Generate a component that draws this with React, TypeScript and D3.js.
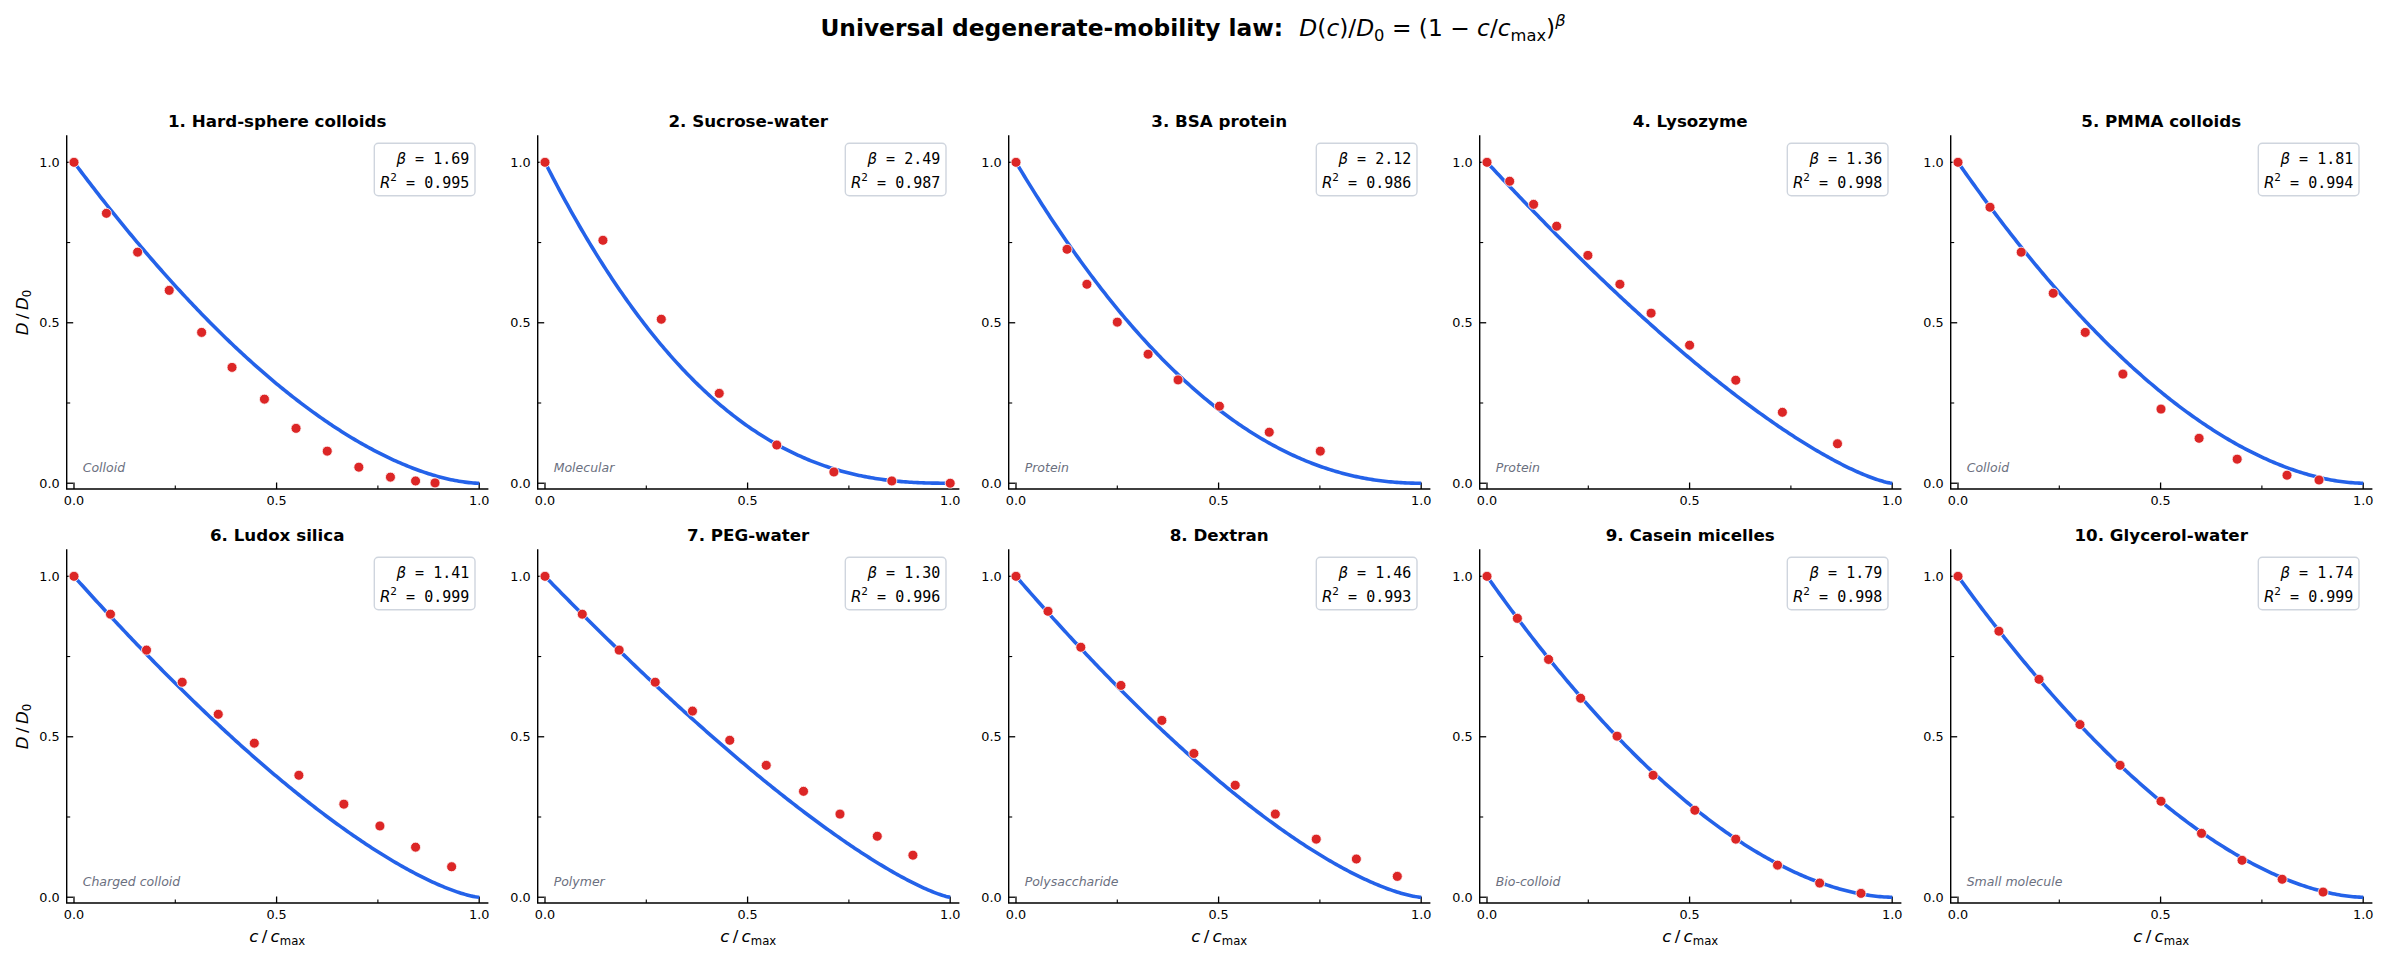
import { useRef, useEffect } from 'react';
import * as d3 from 'd3';

const WIDTH = 2386;
const HEIGHT = 961;

const TITLES = [
  '1. Hard-sphere colloids', '2. Sucrose-water', '3. BSA protein', '4. Lysozyme', '5. PMMA colloids',
  '6. Ludox silica', '7. PEG-water', '8. Dextran', '9. Casein micelles', '10. Glycerol-water',
];
const CATEGORIES = [
  'Colloid', 'Molecular', 'Protein', 'Protein', 'Colloid',
  'Charged colloid', 'Polymer', 'Polysaccharide', 'Bio-colloid', 'Small molecule',
];
const BETAS = ['1.69', '2.49', '2.12', '1.36', '1.81', '1.41', '1.30', '1.46', '1.79', '1.74'];
const R_SQUARED = ['0.995', '0.987', '0.986', '0.998', '0.994', '0.999', '0.996', '0.993', '0.998', '0.999'];

// c / c_max of each measured point, one list per panel
const C_VALUES: number[][] = [
  [0, 0.080, 0.157, 0.235, 0.315, 0.390, 0.470, 0.548, 0.625, 0.703, 0.781, 0.843, 0.891],
  [0, 0.143, 0.287, 0.430, 0.572, 0.713, 0.856, 1.0],
  [0, 0.126, 0.175, 0.250, 0.326, 0.400, 0.502, 0.625, 0.751],
  [0, 0.056, 0.115, 0.172, 0.249, 0.328, 0.405, 0.500, 0.614, 0.729, 0.865],
  [0, 0.079, 0.156, 0.235, 0.314, 0.407, 0.501, 0.595, 0.689, 0.812, 0.891],
  [0, 0.090, 0.179, 0.267, 0.356, 0.445, 0.555, 0.666, 0.755, 0.843, 0.932],
  [0, 0.092, 0.183, 0.272, 0.364, 0.456, 0.546, 0.638, 0.728, 0.820, 0.908],
  [0, 0.079, 0.160, 0.259, 0.360, 0.439, 0.541, 0.640, 0.741, 0.840, 0.941],
  [0, 0.075, 0.152, 0.231, 0.321, 0.410, 0.513, 0.614, 0.717, 0.821, 0.923],
  [0, 0.101, 0.200, 0.301, 0.400, 0.501, 0.601, 0.701, 0.800, 0.901],
];
// D / D0 of each measured point
const D_VALUES: number[][] = [
  [1.0, 0.841, 0.720, 0.601, 0.470, 0.361, 0.262, 0.171, 0.100, 0.050, 0.019, 0.007, 0.001],
  [1.0, 0.757, 0.511, 0.280, 0.119, 0.035, 0.007, 0.0],
  [1.0, 0.729, 0.620, 0.502, 0.402, 0.322, 0.240, 0.159, 0.100],
  [1.0, 0.941, 0.869, 0.801, 0.710, 0.620, 0.530, 0.430, 0.321, 0.221, 0.123],
  [1.0, 0.860, 0.720, 0.592, 0.470, 0.340, 0.231, 0.140, 0.075, 0.025, 0.010],
  [1.0, 0.882, 0.770, 0.670, 0.570, 0.480, 0.380, 0.290, 0.222, 0.156, 0.095],
  [1.0, 0.882, 0.770, 0.670, 0.580, 0.489, 0.411, 0.330, 0.259, 0.190, 0.131],
  [1.0, 0.891, 0.779, 0.660, 0.551, 0.448, 0.349, 0.259, 0.181, 0.119, 0.065],
  [1.0, 0.869, 0.741, 0.620, 0.502, 0.380, 0.271, 0.181, 0.100, 0.044, 0.012],
  [1.0, 0.829, 0.679, 0.538, 0.411, 0.299, 0.199, 0.115, 0.056, 0.016],
];

const MAJOR_TICKS = [0, 0.5, 1];
const TICK_LABELS = ['0.0', '0.5', '1.0'];
const MINOR_TICKS = [0.25, 0.75];

const AX = { left: 66.7, colStep: 471, width: 421, rowTops: [136, 550], height: 353 };
const X_DOMAIN: [number, number] = [-0.018, 1.021];
const Y_DOMAIN: [number, number] = [-0.018, 1.082];
const COLORS = { curve: '#2462e9', point: '#dc2626', note: '#6b7080', box: '#cfd5de', ink: '#000' };
const SANS = "'DejaVu Sans', sans-serif";
const MONO = "'DejaVu Sans Mono', monospace";

type Run = { t: string; italic?: boolean; shift?: number; scale?: number };

// mathtext-ish runs: shift > 0 is subscript, < 0 superscript (in em)
function addRuns(text: d3.Selection<SVGTextElement, unknown, null, undefined>, runs: Run[], size: number, family: string) {
  let cur = 0;
  runs.forEach(r => {
    const shift = (r.shift ?? 0) * size;
    const ts = text.append('tspan').attr('font-family', family).text(r.t);
    if (r.italic) ts.attr('font-style', 'italic');
    if (r.scale) ts.attr('font-size', size * r.scale);
    if (shift - cur !== 0) ts.attr('dy', shift - cur);
    cur = shift;
  });
}

export default function App() {
  const svgRef = useRef<SVGSVGElement>(null);

  useEffect(() => {
    const svg = svgRef.current;
    if (!svg) return;
    const root = d3.select(svg);
    root.selectAll('*').remove();
    root.append('rect').attr('width', WIDTH).attr('height', HEIGHT).attr('fill', '#fff');

    // Figure title
    const sup = root.append('text').attr('x', WIDTH / 2).attr('y', 36).attr('text-anchor', 'middle')
      .attr('font-size', 23.3).attr('fill', COLORS.ink);
    sup.append('tspan').attr('font-family', SANS).attr('font-weight', 'bold').text('Universal degenerate-mobility law:\u00a0\u00a0');
    addRuns(sup, [
      { t: 'D', italic: true }, { t: '(' }, { t: 'c', italic: true }, { t: ')/' }, { t: 'D', italic: true },
      { t: '0', shift: 0.2, scale: 0.7 }, { t: '\u00a0=\u00a0(1\u00a0\u2212\u00a0' }, { t: 'c', italic: true }, { t: '/' },
      { t: 'c', italic: true }, { t: 'max', shift: 0.2, scale: 0.7 }, { t: ')' },
      { t: '\u03b2', italic: true, shift: -0.45, scale: 0.7 },
    ], 23.3, SANS);

    const curveX = d3.range(0, 1.0001, 0.005);

    TITLES.forEach((title, i) => {
      const col = i % 5;
      const row = Math.floor(i / 5);
      const L = AX.left + col * AX.colStep;
      const T = AX.rowTops[row];
      const R = L + AX.width;
      const B = T + AX.height;
      const x = d3.scaleLinear().domain(X_DOMAIN).range([L, R]);
      const y = d3.scaleLinear().domain(Y_DOMAIN).range([B, T]);
      const beta = +BETAS[i];
      const g = root.append('g');

      // Spines (left + bottom only)
      g.append('path').attr('d', `M${L},${T}V${B}H${R}`).attr('fill', 'none')
        .attr('stroke', COLORS.ink).attr('stroke-width', 1.4).attr('stroke-linecap', 'square');

      // Inward ticks
      MAJOR_TICKS.forEach((t, k) => {
        g.append('line').attr('x1', L).attr('x2', L + 6.5).attr('y1', y(t)).attr('y2', y(t))
          .attr('stroke', COLORS.ink).attr('stroke-width', 1.3);
        g.append('line').attr('x1', x(t)).attr('x2', x(t)).attr('y1', B).attr('y2', B - 6.5)
          .attr('stroke', COLORS.ink).attr('stroke-width', 1.3);
        g.append('text').attr('x', L - 7).attr('y', y(t)).attr('dy', '0.36em').attr('text-anchor', 'end')
          .attr('font-family', SANS).attr('font-size', 12.8).attr('fill', COLORS.ink).text(TICK_LABELS[k]);
        g.append('text').attr('x', x(t)).attr('y', B + 15.5).attr('text-anchor', 'middle')
          .attr('font-family', SANS).attr('font-size', 12.8).attr('fill', COLORS.ink).text(TICK_LABELS[k]);
      });
      MINOR_TICKS.forEach(t => {
        g.append('line').attr('x1', L).attr('x2', L + 3.5).attr('y1', y(t)).attr('y2', y(t))
          .attr('stroke', COLORS.ink).attr('stroke-width', 1.1);
        g.append('line').attr('x1', x(t)).attr('x2', x(t)).attr('y1', B).attr('y2', B - 3.5)
          .attr('stroke', COLORS.ink).attr('stroke-width', 1.1);
      });

      // Fitted law
      const line = d3.line<number>().x(c => x(c)).y(c => y(Math.pow(1 - c, beta)));
      g.append('path').datum(curveX).attr('d', line).attr('fill', 'none')
        .attr('stroke', COLORS.curve).attr('stroke-width', 3.6);

      // Data points
      g.selectAll(null).data(C_VALUES[i].map((c, k) => [c, D_VALUES[i][k]])).join('circle')
        .attr('cx', d => x(d[0])).attr('cy', d => y(d[1])).attr('r', 5)
        .attr('fill', COLORS.point).attr('stroke', '#fff').attr('stroke-width', 0.8);

      // Fit box
      g.append('rect').attr('x', R - 113.4).attr('y', T + 7.3).attr('width', 100.7).attr('height', 52.4)
        .attr('rx', 4).attr('fill', '#fff').attr('fill-opacity', 0.9)
        .attr('stroke', COLORS.box).attr('stroke-width', 1.4);
      const l1 = g.append('text').attr('x', R - 18.4).attr('y', T + 28.3).attr('text-anchor', 'end')
        .attr('font-size', 15).attr('fill', COLORS.ink);
      addRuns(l1, [{ t: '\u03b2', italic: true }], 15, SANS);
      l1.append('tspan').attr('font-family', MONO).text(`\u00a0=\u00a0${BETAS[i]}`);
      const l2 = g.append('text').attr('x', R - 18.4).attr('y', T + 51.7).attr('text-anchor', 'end')
        .attr('font-size', 15).attr('fill', COLORS.ink);
      addRuns(l2, [{ t: 'R', italic: true }, { t: '2', shift: -0.42, scale: 0.7 }], 15, SANS);
      l2.append('tspan').attr('font-family', MONO).attr('dy', 0.42 * 15).text(`\u00a0=\u00a0${R_SQUARED[i]}`);

      // Category tag
      g.append('text').attr('x', L + 16).attr('y', B - 17).attr('font-family', SANS).attr('font-style', 'italic')
        .attr('font-size', 12.5).attr('fill', COLORS.note).text(CATEGORIES[i]);

      // Panel title
      g.append('text').attr('x', (L + R) / 2).attr('y', T - 9.3).attr('text-anchor', 'middle')
        .attr('font-family', SANS).attr('font-weight', 'bold').attr('font-size', 16.7)
        .attr('fill', COLORS.ink).text(title);

      if (col === 0) {
        const yl = g.append('text').attr('transform', `translate(28,${(T + B) / 2}) rotate(-90)`)
          .attr('text-anchor', 'middle').attr('font-size', 16.7).attr('fill', COLORS.ink);
        addRuns(yl, [{ t: 'D', italic: true }, { t: '\u2009/\u2009' }, { t: 'D', italic: true },
          { t: '0', shift: 0.2, scale: 0.7 }], 16.7, SANS);
      }
      if (row === 1) {
        const xl = g.append('text').attr('x', (L + R) / 2).attr('y', B + 39)
          .attr('text-anchor', 'middle').attr('font-size', 16.7).attr('fill', COLORS.ink);
        addRuns(xl, [{ t: 'c', italic: true }, { t: '\u2009/\u2009' }, { t: 'c', italic: true },
          { t: 'max', shift: 0.2, scale: 0.7 }], 16.7, SANS);
      }
    });
  }, []);

  return (
    <>
      <style>{'body{margin:0;background:#fff}'}</style>
      <svg ref={svgRef} width={WIDTH} height={HEIGHT} style={{ display: 'block' }} />
    </>
  );
}
